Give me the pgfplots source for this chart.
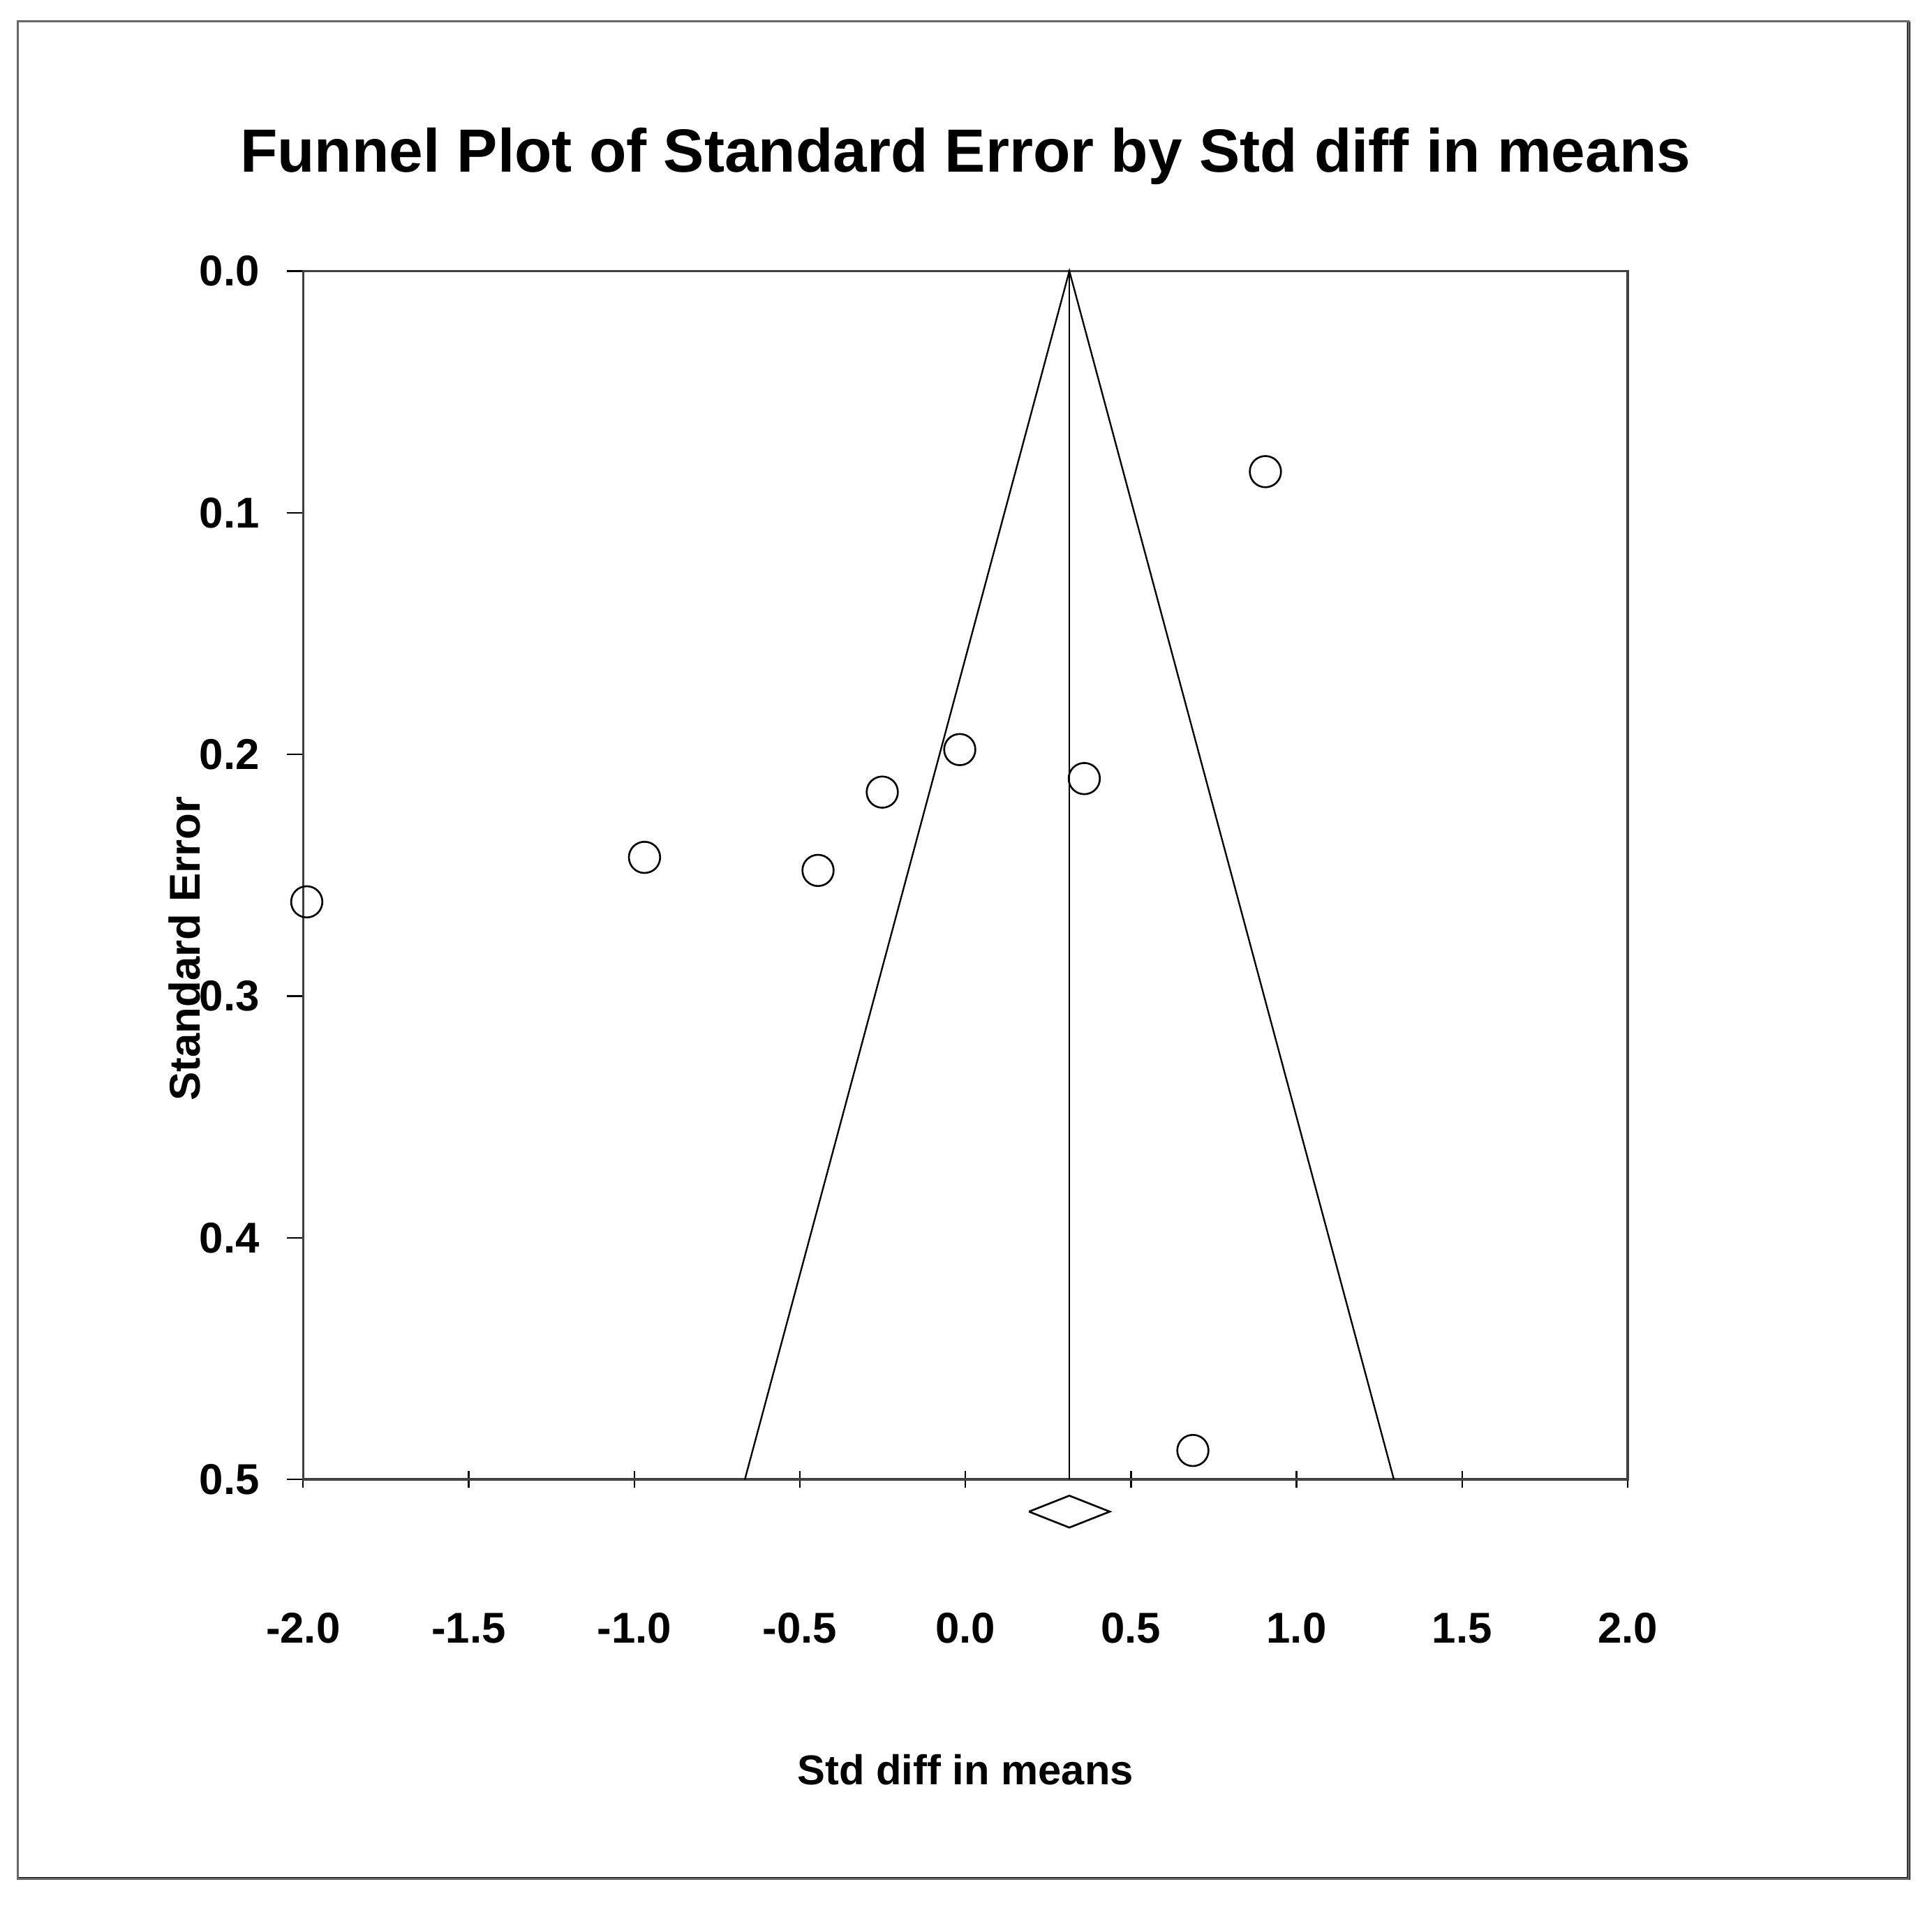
\documentclass[border=0pt]{standalone}
\usepackage{fontspec}
\setmainfont{Liberation Sans}
\usepackage{pgfplots}
\pgfplotsset{compat=1.18}
\begin{document}
\begin{tikzpicture}
\path (-73.8pt,-103.5pt) rectangle (396.6pt,360.3pt);
\draw[black, line width=0.8pt] (-69.4pt,-97.2pt) -- (390.9pt,-97.2pt) -- (390.9pt,355.1pt);
\draw[black!60, line width=0.5pt] (-69.4pt,-97.2pt) rectangle (390.9pt,355.1pt);
\begin{axis}[
  at={(0,0)}, anchor=south west,
  scale only axis, width=322.5pt, height=294.3pt,
  xmin=-2, xmax=2, ymin=0, ymax=0.5, y dir=reverse,
  clip=false,
  axis line style={black!75, line width=0.6pt},
  tick pos=left,
  tick align=center,
  major tick length=4pt,
  every major tick/.append style={black, line width=0.4pt},
  major y tick style={xshift=-2pt},
  xtick={-2,-1.5,-1,-0.5,0,0.5,1,1.5,2},
  xticklabels={-2.0,-1.5,-1.0,-0.5,0.0,0.5,1.0,1.5,2.0},
  ytick={0,0.1,0.2,0.3,0.4,0.5},
  yticklabels={0.0,0.1,0.2,0.3,0.4,0.5},
  tick label style={font=\bfseries\fontsize{10.5}{12}\selectfont, inner sep=0pt},
  xticklabel style={anchor=base, yshift=-37.8pt},
  yticklabel style={anchor=east, xshift=-8.4pt},
  title={Funnel Plot of Standard Error by Std diff in means},
  title style={font=\bfseries\fontsize{14.85}{18}\selectfont, at={(axis description cs:0.5,1)}, anchor=base, yshift=18.2pt, inner sep=0pt},
  xlabel={Std diff in means},
  xlabel style={font=\bfseries\fontsize{10.15}{12}\selectfont, at={(axis description cs:0.5,0)}, anchor=base, yshift=-74.4pt, inner sep=0pt},
  ylabel={Standard Error},
  ylabel style={font=\bfseries\fontsize{10.5}{12}\selectfont, at={(axis description cs:0,0.4394)}, anchor=center, yshift=28.8pt, inner sep=0pt},
]
% funnel
\addplot[black, line width=0.4pt] coordinates {(-0.666,0.5) (0.314,0) (1.294,0.5)};
\addplot[black, line width=0.4pt] coordinates {(0.314,0) (0.314,0.5)};
% studies
\addplot[only marks, mark=o, mark size=3.8pt, mark options={black, line width=0.45pt}] coordinates {
(0.906,0.083)
(-0.017,0.198)
(0.359,0.210)
(-0.251,0.2156)
(-0.969,0.2426)
(-0.445,0.248)
(-1.989,0.261)
(0.687,0.488)
};
% summary diamond
\addplot[black, line width=0.45pt] coordinates {(0.192,0.5133) (0.314,0.5067) (0.436,0.5133) (0.314,0.5199) (0.192,0.5133)};
\end{axis}
\end{tikzpicture}
\end{document}
